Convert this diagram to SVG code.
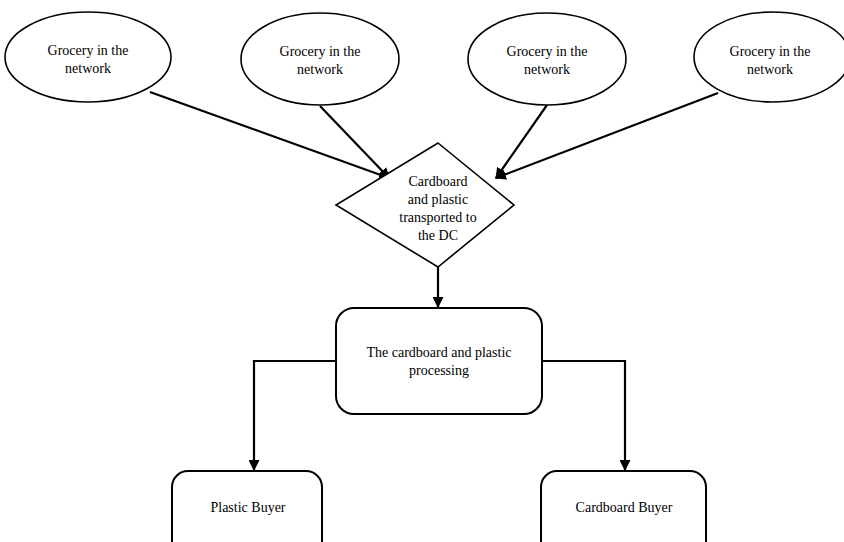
<svg xmlns="http://www.w3.org/2000/svg" width="844" height="542" viewBox="0 0 844 542">
<defs>
<marker id="ah" viewBox="0 0 10 10" refX="9" refY="5" markerWidth="5" markerHeight="5" orient="auto" markerUnits="strokeWidth">
<path d="M0,0 L10,5 L0,10 z" fill="#000"/>
</marker>
<style>
.sh{fill:#fff;stroke:#000;stroke-width:1.6}
.bx{fill:#fff;stroke:#000;stroke-width:2}
.t{font-family:"Liberation Serif","Times New Roman",serif;font-size:14px;fill:#000;text-anchor:middle}
.c{fill:none;stroke:#000;stroke-width:2.2;marker-end:url(#ah)}
</style>
</defs>
<rect width="844" height="542" fill="#fff"/>
<g id="connectors">
<line class="c" x1="150" y1="92" x2="389" y2="178"/>
<line class="c" x1="320" y1="106" x2="389" y2="178"/>
<line class="c" x1="547" y1="105" x2="496" y2="178"/>
<line class="c" x1="718" y1="93" x2="496" y2="178"/>
<line class="c" x1="438" y1="267" x2="438" y2="307"/>
<polyline class="c" points="336,361 254,361 254,470"/>
<polyline class="c" points="542,361 625,361 625,470"/>
</g>
<g id="g1"><ellipse class="sh" cx="88" cy="57" rx="83" ry="45"/><text class="t" x="88" y="55">Grocery in the</text><text class="t" x="88" y="73">network</text></g>
<g id="g2"><ellipse class="sh" cx="320" cy="59" rx="79" ry="46"/><text class="t" x="320" y="56">Grocery in the</text><text class="t" x="320" y="74">network</text></g>
<g id="g3"><ellipse class="sh" cx="547" cy="59" rx="79" ry="46"/><text class="t" x="547" y="56">Grocery in the</text><text class="t" x="547" y="74">network</text></g>
<g id="g4"><ellipse class="sh" cx="772" cy="57" rx="78" ry="45"/><text class="t" x="770" y="56">Grocery in the</text><text class="t" x="770" y="74">network</text></g>
<g id="dc"><polygon class="sh" points="438,143 514,205 438,267 336,205"/>
<text class="t" x="438" y="186">Cardboard</text><text class="t" x="438" y="204">and plastic</text><text class="t" x="438" y="222">transported to</text><text class="t" x="438" y="240">the DC</text></g>
<g id="proc"><rect class="bx" x="336" y="308" width="206" height="106" rx="18"/>
<text class="t" x="439" y="357">The cardboard and plastic</text><text class="t" x="439" y="375">processing</text></g>
<g id="plastic"><rect class="bx" x="172" y="471" width="150" height="90" rx="16"/><text class="t" x="248" y="512">Plastic Buyer</text></g>
<g id="cardboard"><rect class="bx" x="541" y="471" width="165" height="90" rx="16"/><text class="t" x="624" y="512">Cardboard Buyer</text></g>
</svg>
